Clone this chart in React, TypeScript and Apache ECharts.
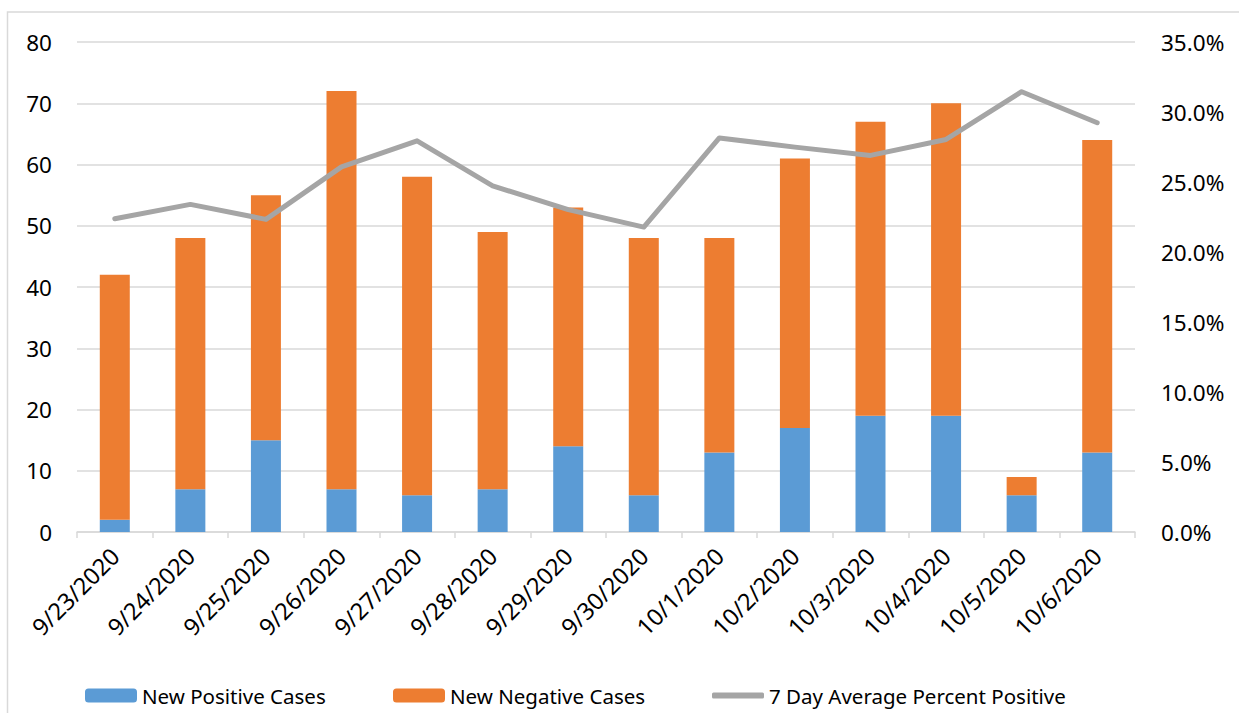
import React, { useEffect, useRef } from "react";
import * as echarts from "echarts";

const categories = [
  "9/23/2020", "9/24/2020", "9/25/2020", "9/26/2020", "9/27/2020", "9/28/2020", "9/29/2020",
  "9/30/2020", "10/1/2020", "10/2/2020", "10/3/2020", "10/4/2020", "10/5/2020", "10/6/2020",
];
const positiveCases = [2, 7, 15, 7, 6, 7, 14, 6, 13, 17, 19, 19, 6, 13];
const negativeCases = [40, 41, 40, 65, 52, 42, 39, 42, 35, 44, 48, 51, 3, 51];
const avgPercentPositive = [
  0.2238, 0.234, 0.2233, 0.2608, 0.2794, 0.2472, 0.2303, 0.2178, 0.2815, 0.2749, 0.269, 0.2804, 0.3145, 0.2923,
];

const FONT = "Noto Sans";

export default function App() {
  const ref = useRef<HTMLDivElement>(null);
  useEffect(() => {
    if (!ref.current) return;
    const chart = echarts.init(ref.current, undefined, { renderer: "svg" });
    const legendText = { fontFamily: FONT, fontSize: 20.5, color: "#000" };
    chart.setOption({
      animation: false,
      backgroundColor: "#fff",
      textStyle: { fontFamily: FONT },
      grid: { left: 77, right: 104, top: 42, bottom: 181, containLabel: false },
      graphic: [
        {
          type: "rect",
          shape: { x: 7.5, y: 12, width: 1300, height: 800 },
          style: { fill: "none", stroke: "#d9d9d9", lineWidth: 1.5 },
          silent: true,
          z: -1,
        },
      ],
      legend: [
        {
          data: ["New Positive Cases"], left: 85, top: 685, itemWidth: 52, itemHeight: 14,
          itemGap: 0, textStyle: legendText, padding: 0,
        },
        {
          data: ["New Negative Cases"], left: 393, top: 685, itemWidth: 52, itemHeight: 14,
          itemGap: 0, textStyle: legendText, padding: 0,
        },
        {
          data: [{ name: "7 Day Average Percent Positive", icon: "roundRect" }],
          left: 712, top: 685, itemWidth: 52, itemHeight: 6,
          itemGap: 0, textStyle: legendText, padding: 0,
          itemStyle: { color: "#a5a5a5" },
        },
      ],
      xAxis: {
        type: "category",
        data: categories,
        boundaryGap: true,
        axisLine: { lineStyle: { color: "#d9d9d9", width: 1.5 } },
        axisTick: { show: true, length: 6, lineStyle: { color: "#d9d9d9", width: 1.5 } },
        axisLabel: { rotate: 45, fontSize: 23.5, color: "#000", fontFamily: FONT, margin: 20, interval: 0 },
      },
      yAxis: [
        {
          type: "value",
          min: 0,
          max: 80,
          interval: 10,
          axisLine: { show: false },
          axisTick: { show: false },
          splitLine: { lineStyle: { color: "#d9d9d9", width: 1.5 } },
          axisLabel: { fontSize: 22.5, color: "#000", fontFamily: FONT, margin: 25 },
        },
        {
          type: "value",
          min: 0,
          max: 0.35,
          interval: 0.05,
          position: "right",
          axisLine: { show: false },
          axisTick: { show: false },
          splitLine: { show: false },
          axisLabel: {
            fontSize: 22.5,
            color: "#000",
            fontFamily: FONT,
            margin: 26,
            formatter: (v: number) => (v * 100).toFixed(1) + "%",
          },
        },
      ],
      series: [
        {
          name: "New Positive Cases",
          type: "bar",
          stack: "cases",
          data: positiveCases,
          barWidth: 30,
          itemStyle: { color: "#5b9bd5" },
        },
        {
          name: "New Negative Cases",
          type: "bar",
          stack: "cases",
          data: negativeCases,
          barWidth: 30,
          itemStyle: { color: "#ed7d31" },
        },
        {
          name: "7 Day Average Percent Positive",
          type: "line",
          yAxisIndex: 1,
          data: avgPercentPositive,
          symbol: "none",
          lineStyle: { color: "#a5a5a5", width: 5, cap: "round", join: "round" },
          itemStyle: { color: "#a5a5a5" },
          z: 5,
        },
      ],
    });
    return () => chart.dispose();
  }, []);
  return (
    <div
      ref={ref}
      style={{ position: "absolute", left: 0, top: 0, width: 1239, height: 713 }}
    />
  );
}
